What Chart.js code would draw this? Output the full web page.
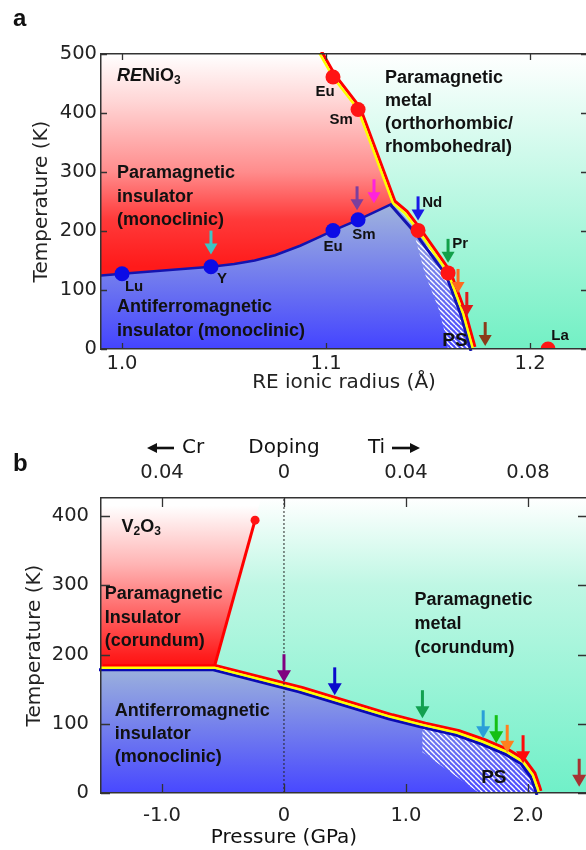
<!DOCTYPE html>
<html>
<head>
<meta charset="utf-8">
<script src="https://cdn.jsdelivr.net/npm/chart.js@4.4.0/dist/chart.umd.min.js"></script>
<style>
  html, body { margin: 0; padding: 0; background: #fff; overflow: hidden; }
  #wrapA { position: absolute; left: 0; top: 0; width: 600px; height: 400px; }
  #wrapB { position: absolute; left: 0; top: 400px; width: 600px; height: 450px; }
</style>
</head>
<body>
<div id="wrapA"><canvas id="chartA" width="600" height="400"></canvas></div>
<div id="wrapB"><canvas id="chartB" width="600" height="450"></canvas></div>
<script>
// ---- panel a: RENiO3 ----
const radiusTicks = [1.0, 1.1, 1.2];
const tempTicksA = [0, 100, 200, 300, 400, 500];

// metal-insulator line (top to bottom)
const mitRadius = [1.0937, 1.1034, 1.1157, 1.1328, 1.1387, 1.1451, 1.1598, 1.1672, 1.1720];
const mitTempA  = [520, 461, 406, 247, 230, 201, 129, 60, 0];
// Neel line (left to right, then down to 0)
const neelRadius = [0.985, 1.0, 1.0436, 1.055, 1.065, 1.075, 1.0873, 1.095, 1.1034, 1.1157, 1.1328, 1.1440, 1.1598, 1.1672, 1.1720];
const neelTempA  = [123, 127.5, 139.5, 144, 150, 159, 175, 187, 200.7, 219, 247, 203, 129, 60, 0];
const kinkIndexA = 10;
// phase separation, left edge
const psRadius = [1.1436, 1.1485, 1.1550, 1.1583, 1.1598];
const psTempA  = [190, 127, 70, 27, 0];

const mitDotNames  = ['Eu', 'Sm', 'Nd', 'Pr', 'La'];
const mitDotRadius = [1.1034, 1.1157, 1.1451, 1.1598, 1.2088];
const mitDotTemp   = [461, 406, 201, 129, 0];
const mitLabelRadius = [1.0995, 1.1074, 1.152, 1.1657, 1.2147];
const mitLabelTemp   = [435, 389, 248, 179, 22];

const neelDotNames  = ['Lu', 'Y', 'Eu', 'Sm'];
const neelDotRadius = [1.0, 1.0436, 1.1034, 1.1157];
const neelDotTemp   = [127.5, 139.5, 200.7, 219];
const neelLabelRadius = [1.0059, 1.049, 1.1034, 1.1186];
const neelLabelTemp   = [105, 119, 173, 194];

const arrowRadius = [1.0436, 1.1152, 1.1235, 1.1451, 1.1598, 1.1647, 1.1690, 1.1780];
const arrowTempA  = [160, 235, 247, 218, 146, 95, 56, 5];
const arrowColorA = ['#3cc6c6', '#7b3f9e', '#ff22dd', '#1a1ae6', '#12a04a', '#ff6a1e', '#e01a1a', '#8b3a1a'];

// ---- panel b: V2O3 ----
const pressureTicks = [-1, 0, 1, 2];
const dopingTicks = ['0.04', '0', '0.04', '0.08'];
const tempTicksB = [0, 100, 200, 300, 400];

const mitPressure = [-1.6, -0.571, 0.139, 0.873, 1.143, 1.42, 1.63, 1.83, 1.96, 2.04, 2.08, 2.09];
const mitTempB    = [181, 181, 149, 110, 98, 87, 74, 59, 45, 26, 6, 0];
const pmiPressure = [-0.237, -0.568];
const pmiTemp     = [394, 184];
const psPressure = [1.135, 1.135, 1.60];
const psTempB    = [98, 59, 0];

const arrowPressure = [0, 0.416, 1.135, 1.633, 1.74, 1.83, 1.96, 2.42];
const arrowTempB    = [160, 141, 108, 79, 72, 58, 43, 9];
const arrowColorB   = ['#800080', '#0a0acc', '#12a050', '#2a9fd8', '#14c014', '#ff7f1e', '#ff0a0a', '#a63232'];

// ---- helpers ----
const AXIS_FONT = {family: '"DejaVu Sans", sans-serif', size: 19.5};
const TITLE_FONT = {family: '"DejaVu Sans", sans-serif', size: 20};
const BOLD = 'bold 18px "Liberation Sans", Arial, sans-serif';
const BOLD_SM = 'bold 15px "Liberation Sans", Arial, sans-serif';
const BOLD_PS = 'bold 19px "Liberation Sans", Arial, sans-serif';
const SUB = 'bold 12px "Liberation Sans", Arial, sans-serif';
const PANEL = 'bold 24px "Liberation Sans", Arial, sans-serif';

const pts = (xs, ys) => xs.map((x, i) => ({x, y: ys[i]}));

function vGrad(chart, stops) {
  const {ctx, chartArea, scales} = chart;
  if (!chartArea) return stops[0][1];
  const y = scales.y;
  const y0 = y.getPixelForValue(stops[0][0]);
  const y1 = y.getPixelForValue(stops[stops.length - 1][0]);
  const g = ctx.createLinearGradient(0, y0, 0, y1);
  stops.forEach(([v, c]) => g.addColorStop((y.getPixelForValue(v) - y0) / (y1 - y0), c));
  return g;
}

function hatch(ctx) {
  const c = document.createElement('canvas');
  c.width = 5; c.height = 5;
  const g = c.getContext('2d');
  g.strokeStyle = '#ffffff';
  g.lineWidth = 1.4;
  g.beginPath();
  for (let k = -1; k <= 1; k++) { g.moveTo(k * 5, 0); g.lineTo(k * 5 + 5, 5); }
  g.stroke();
  return ctx.createPattern(c, 'repeat');
}

function text(ctx, str, x, y, font, align) {
  ctx.font = font;
  ctx.fillStyle = '#111';
  ctx.textAlign = align || 'left';
  ctx.textBaseline = 'middle';
  ctx.fillText(str, x, y);
}

function rich(ctx, parts, x, y) {
  ctx.fillStyle = '#111';
  ctx.textAlign = 'left';
  ctx.textBaseline = 'middle';
  parts.forEach(p => {
    ctx.font = p[1];
    ctx.fillText(p[0], x, y + (p[2] || 0));
    x += ctx.measureText(p[0]).width;
  });
}

function drawArrow(ctx, x, tipY, len, color, headW, headL, shaftW) {
  ctx.save();
  ctx.fillStyle = color;
  ctx.strokeStyle = color;
  ctx.lineWidth = shaftW;
  ctx.beginPath();
  ctx.moveTo(x, tipY - len);
  ctx.lineTo(x, tipY - headL + 1);
  ctx.stroke();
  ctx.beginPath();
  ctx.moveTo(x - headW / 2, tipY - headL);
  ctx.lineTo(x + headW / 2, tipY - headL);
  ctx.lineTo(x, tipY);
  ctx.closePath();
  ctx.fill();
  ctx.restore();
}

function hArrow(ctx, x0, x1, y) {
  // shaft from x0 to tip x1
  const dir = Math.sign(x1 - x0);
  ctx.save();
  ctx.fillStyle = '#111';
  ctx.strokeStyle = '#111';
  ctx.lineWidth = 2.6;
  ctx.beginPath();
  ctx.moveTo(x0, y);
  ctx.lineTo(x1 - dir * 8, y);
  ctx.stroke();
  ctx.beginPath();
  ctx.moveTo(x1, y);
  ctx.lineTo(x1 - dir * 10, y - 5);
  ctx.lineTo(x1 - dir * 10, y + 5);
  ctx.closePath();
  ctx.fill();
  ctx.restore();
}

// shift a boundary line sideways so red / yellow / blue sit next to each other
const shiftPlugin = {
  id: 'shift',
  beforeDatasetDraw(chart, args) {
    const s = chart.data.datasets[args.index].shift;
    if (s) { chart.ctx.save(); chart.ctx.translate(s[0], s[1]); }
  },
  afterDatasetDraw(chart, args) {
    if (chart.data.datasets[args.index].shift) chart.ctx.restore();
  }
};

// metal region colour behind everything
const bgPlugin = {
  id: 'metalBg',
  beforeDatasetsDraw(chart, args, opts) {
    const a = chart.chartArea;
    chart.ctx.save();
    chart.ctx.fillStyle = vGrad(chart, opts.stops);
    chart.ctx.fillRect(a.left, a.top, a.right - a.left, a.bottom - a.top);
    chart.ctx.restore();
  }
};

// tick marks pointing into the plot on all four sides
const innerTicks = {
  id: 'innerTicks',
  afterDatasetsDraw(chart, args, opts) {
    const {ctx, chartArea: a, scales: {x, y}} = chart;
    const L = opts.len;
    ctx.save();
    ctx.strokeStyle = '#333';
    ctx.lineWidth = 1.3;
    ctx.beginPath();
    x.ticks.forEach(t => {
      const px = Math.round(x.getPixelForValue(t.value)) + 0.5;
      ctx.moveTo(px, a.bottom); ctx.lineTo(px, a.bottom - L);
      ctx.moveTo(px, a.top); ctx.lineTo(px, a.top + L);
    });
    y.ticks.forEach(t => {
      const py = Math.round(y.getPixelForValue(t.value)) + 0.5;
      ctx.moveTo(a.left, py); ctx.lineTo(a.left + L, py);
      ctx.moveTo(a.right, py); ctx.lineTo(a.right - L, py);
    });
    ctx.stroke();
    ctx.restore();
  }
};

Chart.register(shiftPlugin);

function zeroPad(s) { s.paddingLeft = s.paddingRight = s.paddingTop = s.paddingBottom = 0; }

function buildScales(o) {
  const border = {display: true, color: '#333', width: 1.5, z: 1};
  const grid = {display: false, drawTicks: false};
  return {
    x: {
      type: 'linear', min: o.xMin, max: o.xMax,
      afterBuildTicks: s => { s.ticks = o.xTicks.map(v => ({value: v})); },
      afterFit: s => { s.height = o.bottomH; zeroPad(s); },
      grid, border,
      ticks: {padding: o.xPad, font: AXIS_FONT, color: '#222', maxRotation: 0, autoSkip: false, callback: o.xFmt},
      title: o.xTitle || {display: false}
    },
    x2: {
      type: 'linear', position: 'top', min: o.xMin, max: o.xMax,
      afterBuildTicks: s => { s.ticks = o.xTicks.map(v => ({value: v})); },
      afterFit: s => { s.height = o.topH; zeroPad(s); },
      grid, border,
      ticks: o.topFmt
        ? {padding: o.topPad, font: AXIS_FONT, color: '#222', maxRotation: 0, autoSkip: false, callback: o.topFmt}
        : {display: false}
    },
    y: {
      type: 'linear', min: o.yMin, max: o.yMax,
      afterBuildTicks: s => { s.ticks = o.yTicks.map(v => ({value: v})); },
      afterFit: s => { s.width = 101; zeroPad(s); },
      grid, border,
      ticks: {padding: o.yPad, font: AXIS_FONT, color: '#222', autoSkip: false},
      title: {display: true, text: 'Temperature (K)', font: TITLE_FONT, color: '#222', padding: {top: o.yTitlePad, bottom: 0}}
    }
  };
}

const lineDs = (data, color, width, order, shift) =>
  ({data, borderColor: color, borderWidth: width, pointRadius: 0, fill: false, order, shift});
const areaDs = (data, bg, order) =>
  ({data, backgroundColor: bg, borderWidth: 0, borderColor: 'rgba(0,0,0,0)', pointRadius: 0, fill: 'shape', order});
const dotDs = (data, color, r) =>
  ({data, showLine: false, pointRadius: r, pointBackgroundColor: color, pointBorderWidth: 0, clip: 0, order: 0});

const baseOptions = {
  responsive: false,
  animation: false,
  devicePixelRatio: 1,
  events: [],
  layout: {padding: {left: 0, right: 13, top: 0, bottom: 0}, autoPadding: false}
};

// ---------- chart a ----------
const mitA = pts(mitRadius, mitTempA);
const neelA = pts(neelRadius, neelTempA);
const xMinA = 0.9897;
const insulatorA = neelA.slice(0, kinkIndexA + 1)
  .concat(mitA.slice(0, 4).reverse())
  .concat([{x: neelRadius[0], y: mitTempA[0]}]);
const afiA = neelA.concat([{x: neelRadius[0], y: 0}]);
const psA = pts(psRadius, psTempA).concat(neelA.slice(kinkIndexA + 1).reverse());

const overlayA = {
  id: 'overlayA',
  afterDatasetsDraw(chart) {
    const {ctx, scales: {x, y}} = chart;
    const X = v => x.getPixelForValue(v), Y = v => y.getPixelForValue(v);
    arrowRadius.forEach((r, i) => drawArrow(ctx, X(r), Y(arrowTempA[i]), 24, arrowColorA[i], 13, 11, 3));
    mitDotNames.forEach((n, i) => text(ctx, n, X(mitLabelRadius[i]), Y(mitLabelTemp[i]), BOLD_SM, 'center'));
    neelDotNames.forEach((n, i) => text(ctx, n, X(neelLabelRadius[i]), Y(neelLabelTemp[i]), BOLD_SM, 'center'));
    rich(ctx, [['RE', 'italic ' + BOLD], ['NiO', BOLD], ['3', SUB, 5]], X(0.9975), Y(463));
    ['Paramagnetic', 'insulator', '(monoclinic)'].forEach((s, i) => text(ctx, s, X(0.9975), Y(298) + i * 23.5, BOLD));
    ['Antiferromagnetic', 'insulator (monoclinic)'].forEach((s, i) => text(ctx, s, X(0.9975), Y(71) + i * 24, BOLD));
    ['Paramagnetic', 'metal', '(orthorhombic/', 'rhombohedral)'].forEach((s, i) => text(ctx, s, X(1.1289), Y(459) + i * 23, BOLD));
    text(ctx, 'PS', X(1.1632), Y(14), BOLD_PS, 'center');
  },
  afterDraw(chart) {
    text(chart.ctx, 'a', 13, 19, PANEL);
  }
};

new Chart(document.getElementById('chartA'), {
  type: 'line',
  data: {
    datasets: [
      dotDs(pts(mitDotRadius, mitDotTemp), '#ff1414', 7.5),
      dotDs(pts(neelDotRadius, neelDotTemp), '#0c0ce6', 7.5),
      lineDs(mitA, '#ffff00', 2.5, 1),
      lineDs(mitA, '#ff0000', 3, 2, [2, -2]),
      lineDs(neelA.slice(0, kinkIndexA + 1), '#1414b0', 2.5, 3),
      lineDs(neelA.slice(kinkIndexA), '#1414b0', 3, 3, [-2, 2]),
      areaDs(psA, c => hatch(c.chart.ctx), 4),
      areaDs(afiA, c => vGrad(c.chart, [[250, '#a2b6dc'], [0, '#4444ff']]), 5),
      areaDs(insulatorA, c => vGrad(c.chart, [[500, '#ffffff'], [420, '#ffd6d6'], [300, '#ff8c8c'], [220, '#ff3a3a'], [140, '#ff1a1a']]), 6)
    ]
  },
  options: Object.assign({}, baseOptions, {
    scales: buildScales({
      xMin: xMinA, xMax: 1.2279, xTicks: radiusTicks, bottomH: 51, topH: 54, xPad: 3,
      xFmt: v => v.toFixed(1),
      xTitle: {display: true, text: 'RE ionic radius (Å)', font: TITLE_FONT, color: '#222', padding: {top: 0, bottom: 5}},
      yMin: 0, yMax: 500, yTicks: tempTicksA, yPad: 4, yTitlePad: 30
    }),
    plugins: {
      legend: {display: false}, tooltip: {enabled: false},
      metalBg: {stops: [[500, '#ffffff'], [0, '#72f0c4']]},
      innerTicks: {len: 6}
    }
  }),
  plugins: [bgPlugin, innerTicks, overlayA]
});

// ---------- chart b ----------
const mitB = pts(mitPressure, mitTempB);
const yMaxB = 426;
const pmiSlope = (pmiPressure[0] - pmiPressure[1]) / (pmiTemp[0] - pmiTemp[1]);
const pmiTopP = pmiPressure[0] + (yMaxB + 10 - pmiTemp[0]) * pmiSlope;
const insulatorB = [
  {x: mitPressure[0], y: yMaxB + 10}, {x: pmiTopP, y: yMaxB + 10},
  {x: pmiPressure[0], y: pmiTemp[0]}, {x: mitPressure[1], y: mitTempB[1]}, {x: mitPressure[0], y: mitTempB[0]}
];
const afiB = mitB.concat([{x: mitPressure[0], y: 0}]);
const psB = pts(psPressure, psTempB).concat(mitB.filter(p => p.x > psPressure[0]).reverse());

const overlayB = {
  id: 'overlayB',
  afterDatasetsDraw(chart) {
    const {ctx, scales: {x, y}} = chart;
    const X = v => x.getPixelForValue(v), Y = v => y.getPixelForValue(v);
    arrowPressure.forEach((p, i) => drawArrow(ctx, X(p), Y(arrowTempB[i]), 28, arrowColorB[i], 14, 12, 3));
    rich(ctx, [['V', BOLD], ['2', SUB, 5], ['O', BOLD], ['3', SUB, 5]], X(-1.331), Y(384));
    ['Paramagnetic', 'Insulator', '(corundum)'].forEach((s, i) => text(ctx, s, X(-1.469), Y(287) + i * 23.5, BOLD));
    ['Antiferromagnetic', 'insulator', '(monoclinic)'].forEach((s, i) => text(ctx, s, X(-1.388), Y(118) + i * 23, BOLD));
    ['Paramagnetic', 'metal', '(corundum)'].forEach((s, i) => text(ctx, s, X(1.069), Y(279) + i * 24, BOLD));
    text(ctx, 'PS', X(1.72), Y(22), BOLD_PS, 'center');
  },
  afterDraw(chart) {
    const {ctx, scales: {x}} = chart;
    const p0 = x.getPixelForValue(0);
    text(ctx, 'b', 13, 64, PANEL);
    const f = '20px "DejaVu Sans", sans-serif';
    hArrow(ctx, p0 - 110, p0 - 137, 48);
    text(ctx, 'Cr', p0 - 102, 48, f);
    text(ctx, 'Doping', p0, 48, f, 'center');
    text(ctx, 'Ti', p0 + 84, 48, f);
    hArrow(ctx, p0 + 108, p0 + 136, 48);
    text(ctx, 'Pressure (GPa)', p0, 438, f, 'center');
  }
};

new Chart(document.getElementById('chartB'), {
  type: 'line',
  data: {
    datasets: [
      dotDs(pts(pmiPressure.slice(0, 1), pmiTemp.slice(0, 1)), '#ff1414', 4.5),
      Object.assign(lineDs([{x: 0, y: 0}, {x: 0, y: yMaxB}], '#222', 1, 0.5), {borderDash: [2, 2]}),
      lineDs(mitB, '#ffff00', 2.5, 1),
      lineDs(mitB, '#ff0000', 3, 2, [2, -2]),
      lineDs(pts(pmiPressure, pmiTemp), '#ff0000', 3, 2),
      lineDs(mitB, '#0a0ab4', 3, 3, [-2, 2]),
      areaDs(psB, c => hatch(c.chart.ctx), 4),
      areaDs(afiB, c => vGrad(c.chart, [[181, '#9cb2dc'], [0, '#4848ff']]), 5),
      areaDs(insulatorB, c => vGrad(c.chart, [[415, '#ffffff'], [330, '#ffb4b4'], [260, '#ff6464'], [200, '#ff2020'], [181, '#ff1010']]), 6)
    ]
  },
  options: Object.assign({}, baseOptions, {
    scales: buildScales({
      xMin: -1.5, xMax: 2.484, xTicks: pressureTicks, bottomH: 57, topH: 98, xPad: 11, topPad: 13,
      xFmt: v => v === 0 ? '0' : v.toFixed(1),
      topFmt: (v, i) => dopingTicks[i],
      yMin: 0, yMax: yMaxB, yTicks: tempTicksB, yPad: 12, yTitlePad: 23
    }),
    plugins: {
      legend: {display: false}, tooltip: {enabled: false},
      metalBg: {stops: [[426, '#ffffff'], [300, '#bff7e4'], [0, '#70f0c8']]},
      innerTicks: {len: 9}
    }
  }),
  plugins: [bgPlugin, innerTicks, overlayB]
});
</script>
</body>
</html>
